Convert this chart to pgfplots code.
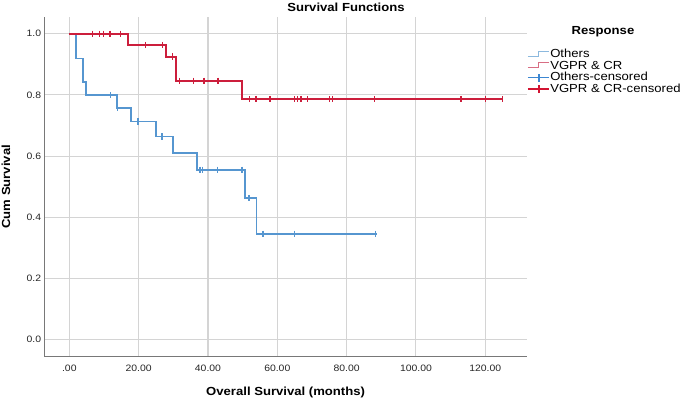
\documentclass[border=0pt]{standalone}
\usepackage{pgfplots}
\pgfplotsset{compat=1.18}
\usepackage{fontspec}
\setmainfont[FakeStretch=1.12]{Liberation Sans}

\definecolor{othersblue}{RGB}{86,150,208}
\definecolor{vgprred}{RGB}{204,30,60}
\definecolor{othersleg}{RGB}{140,185,222}
\definecolor{vgprleg}{RGB}{216,110,132}
\definecolor{censblue}{RGB}{60,135,210}
\definecolor{censred}{RGB}{210,20,50}
\definecolor{gridgray}{RGB}{212,212,212}
\definecolor{axisgray}{RGB}{120,120,120}

\newcommand{\labfont}{\fontsize{11.7bp}{13bp}\selectfont}

\begin{document}
\begin{tikzpicture}
\begin{axis}[
  name=ax,
  scale only axis, width=481.8bp, height=339.7bp,
  xmin=-7.1, xmax=131.9, ymin=-0.0556, ymax=1.0546,
  axis x line*=bottom, axis y line*=left,
  axis line style={draw=axisgray, line width=1bp, -},
  major tick length=0pt,
  xtick={0,20,40,60,80,100,120},
  xticklabels={.00,20.00,40.00,60.00,80.00,100.00,120.00},
  ytick={0,0.2,0.4,0.6,0.8,1},
  yticklabels={0.0,0.2,0.4,0.6,0.8,1.0},
  /pgf/number format/assume math mode=true,
  tick label style={font=\fontsize{9.3bp}{10bp}\selectfont, text=black!85},
  xticklabel style={yshift=-5bp},
  grid=major,
  major grid style={draw=gridgray, line width=1.1bp},
  xlabel={Overall Survival (months)},
  xlabel style={at={(axis description cs:0.5,-0.104)}, anchor=center, font=\bfseries\labfont},
  ylabel={Cum Survival},
  ylabel style={at={(axis description cs:-0.0803,0.5)}, anchor=center, font=\bfseries\labfont},
  legend style={at={(axis description cs:1.0015,0.9065)}, anchor=north west,
    draw=none, fill=none, inner sep=0pt, outer sep=0pt, row sep=0pt, column sep=0pt,
    nodes={inner sep=0.75bp, text height=8bp, text depth=2bp, font=\labfont}},
  legend cell align=left,
]

% Others: Kaplan-Meier step
\addplot[const plot, othersblue, line width=1.9bp, forget plot] coordinates {
(0,1) (1.85,0.919) (3.87,0.842) (4.73,0.799) (13.85,0.758) (17.7,0.713)
(24.9,0.664) (29.8,0.609) (36.9,0.555) (50.8,0.463) (54.0,0.346) (88.7,0.346)
};
\addplot[only marks, mark=|, mark size=3.2bp, othersblue, mark options={line width=1.3bp}, forget plot] coordinates {
(11.8,0.799) (14.0,0.758) (19.8,0.713) (26.7,0.664) (37.7,0.555) (38.5,0.555)
(42.8,0.555) (49.8,0.555) (51.8,0.463) (55.9,0.346) (64.9,0.346) (88.4,0.346)
};

% VGPR & CR: Kaplan-Meier step
\addplot[const plot, vgprred, line width=1.9bp, forget plot] coordinates {
(0,1) (16.85,0.963) (27.8,0.925) (30.8,0.846) (49.8,0.786) (125.2,0.786)
};
\addplot[only marks, mark=|, mark size=3.2bp, vgprred, mark options={line width=1.3bp}, forget plot] coordinates {
(6.75,1) (8.66,1) (9.81,1) (11.74,1) (14.83,1) (21.9,0.963) (26.8,0.963)
(29.8,0.925) (31.7,0.846) (35.8,0.846) (38.9,0.846) (42.9,0.846)
(51.9,0.786) (53.9,0.786) (57.9,0.786) (64.9,0.786) (65.8,0.786) (66.8,0.786)
(68.8,0.786) (75.0,0.786) (75.9,0.786) (88.0,0.786) (113.0,0.786) (120.0,0.786) (125.0,0.786)
};

\addlegendimage{legend image code/.code={\draw[othersleg, line width=1bp] (0bp,-1.5bp) -- (10.5bp,-1.5bp) -- (10.5bp,3.5bp) -- (21bp,3.5bp);}}
\addlegendentry{Others}
\addlegendimage{legend image code/.code={\draw[vgprleg, line width=1bp] (0bp,-1.5bp) -- (10.5bp,-1.5bp) -- (10.5bp,3.5bp) -- (21bp,3.5bp);}}
\addlegendentry{VGPR \& CR}
\addlegendimage{legend image code/.code={\draw[censblue, line width=1.3bp] (0bp,0bp) -- (21bp,0bp) (11bp,-4bp) -- (11bp,4bp);}}
\addlegendentry{Others-censored}
\addlegendimage{legend image code/.code={\draw[censred, line width=1.3bp] (0bp,0bp) -- (21bp,0bp) (11bp,-4bp) -- (11bp,4bp);}}
\addlegendentry{VGPR \& CR-censored}
\end{axis}
\node[font=\bfseries\labfont] at ([xshift=301.3bp, yshift=9.5bp]ax.north west) {Survival Functions};
\node[font=\bfseries\labfont] at ([xshift=76.5bp, yshift=-14.7bp]ax.north east) {Response};
\pgfresetboundingbox
\path[use as bounding box] (-44.7bp,-45.3bp) rectangle (640.3bp,356.7bp);
\end{tikzpicture}
\end{document}
